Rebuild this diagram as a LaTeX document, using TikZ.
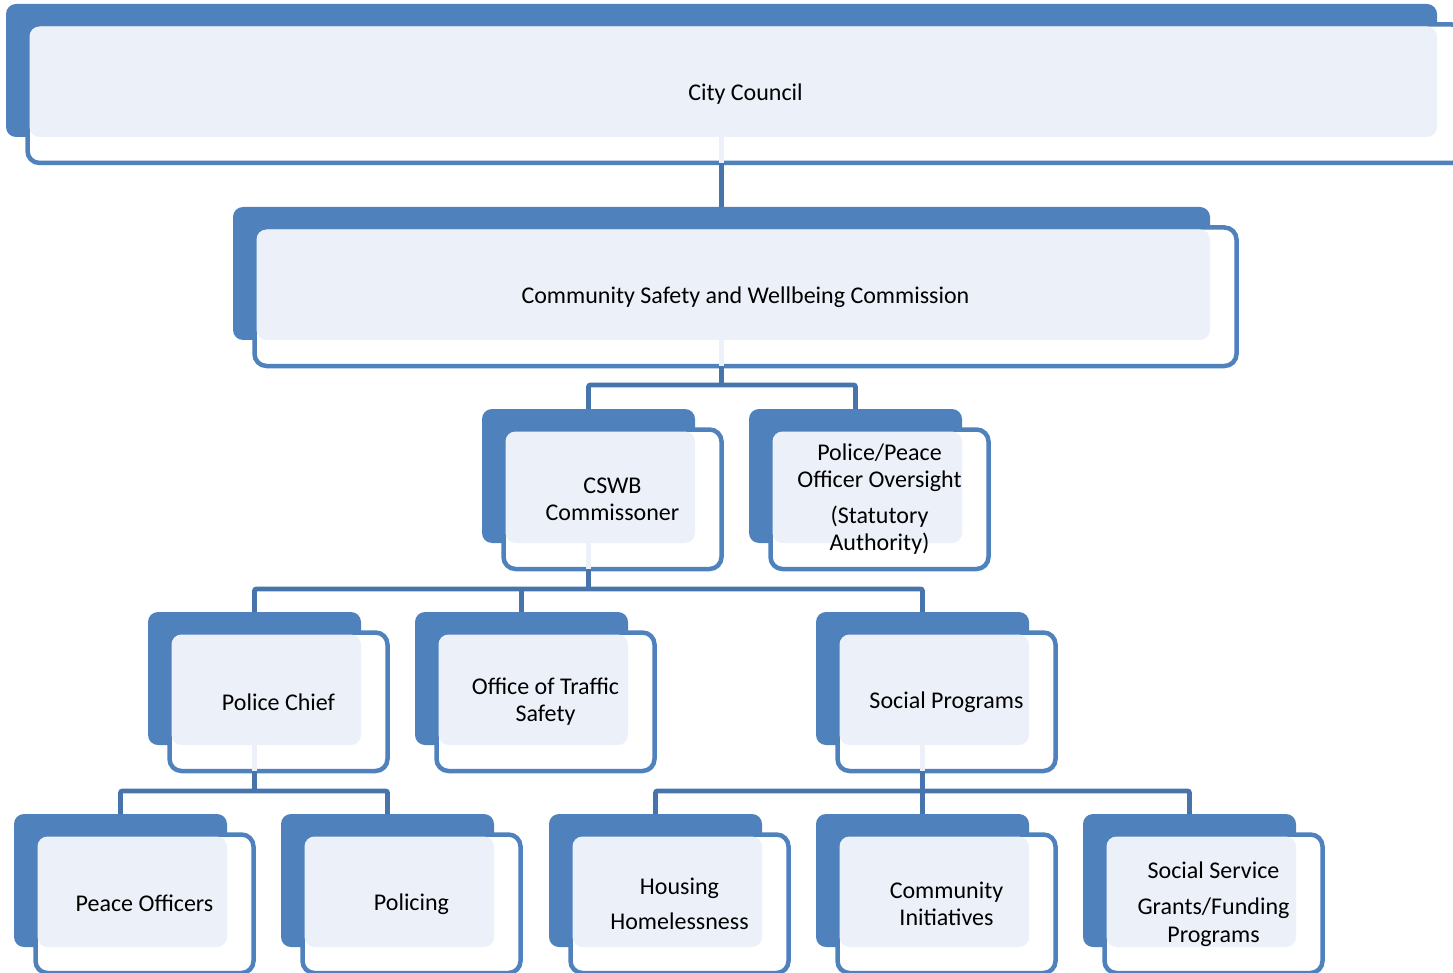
\documentclass[tikz,border=0pt]{standalone}
\usepackage{fontspec}
\setmainfont{Carlito}
\definecolor{bblue}{HTML}{4F81BD}
\definecolor{lfill}{HTML}{ECF1F9}
\definecolor{cline}{HTML}{4874AC}
\tikzset{
  bluebox/.style={fill=bblue, rounded corners=10pt, inner sep=0pt, outer sep=0pt},
  outbox/.style={draw=bblue, line width=4.5pt, fill=white, rounded corners=12pt, inner sep=0pt, outer sep=0pt},
  lightbox/.style={fill=lfill, rounded corners=10pt, inner sep=0pt, outer sep=0pt},
  label/.style={align=center, font=\fontsize{24}{27.5}\selectfont, inner sep=0pt},
  conn/.style={draw=cline, line width=4.8pt, rounded corners=2pt},
  lconn/.style={draw=lfill, line width=5pt}
}
% name, bx1, by1, bx2, by2, text
\newcommand\orgbox[6]{%
  \node[bluebox, minimum width={#4-#2}, minimum height={#5-#3}] (#1-b) at ({(#2+#4)/2},{(#3+#5)/2}) {};
  \node[outbox, minimum width={#4-#2+5}, minimum height={#5-#3+5.5}] (#1) at ({(#2+#4)/2+24},{(#3+#5)/2+23.25}) {};
  \node[lightbox, minimum width={#4-#2-23.5}, minimum height={#5-#3-22.5}] (#1-l) at ({(#2+#4)/2+11.75},{(#3+#5)/2+11.25}) {};
  \node[label] (#1-t) at (#1.center) {#6};
}
\newcommand\stub[1]{\draw[lconn] (#1-b.south) -- ([yshift=-1pt]#1-b.south |- #1.south);}
\begin{document}
\begin{tikzpicture}[x=1pt,y=-1pt]
\useasboundingbox (0,0) rectangle (1453,973);
\clip (0,0) rectangle (1453,973);
\orgbox{cc}{6}{4}{1437}{137}{City Council}
\orgbox{com}{233}{207}{1210}{340}{Community Safety and Wellbeing Commission}
\orgbox{cswb}{482}{409}{695}{543}{CSWB\\Commissoner}
\orgbox{ppo}{749}{409}{962}{543}{Police/Peace\\Officer Oversight\\[8pt](Statutory\\Authority)}
\orgbox{pc}{148}{612}{361}{745}{Police Chief}
\orgbox{ots}{415}{612}{628}{745}{Office of Traffic\\Safety}
\orgbox{sp}{816}{612}{1029}{745}{Social Programs}
\orgbox{po}{14}{814}{227}{947}{Peace Officers}
\orgbox{pol}{281}{814}{494}{947}{Policing}
\orgbox{hh}{549}{814}{762}{947}{Housing\\[8pt]Homelessness}
\orgbox{ci}{816}{814}{1029}{947}{Community\\Initiatives}
\orgbox{ss}{1083}{814}{1296}{947}{Social Service\\[9pt]Grants/Funding\\Programs}
\stub{cc}
\stub{com}
\stub{cswb}
\stub{pc}
\stub{sp}
% connectors
\draw[conn] (cc-b.south |- cc.south) -- (com-b.north);
\coordinate (j1) at (721.5,385);
\draw[conn] (com-b.south |- com.south) -- (j1);
\draw[conn] (cswb-b.north) |- (j1) -| (ppo-b.north);
\coordinate (j2) at (588.5,589);
\draw[conn] (cswb-b.south |- cswb.south) -- (j2);
\draw[conn] (pc-b.north) |- (j2) -| (sp-b.north);
\draw[conn] (ots-b.north) -- (ots-b.north |- j2);
\coordinate (j3) at (254.5,791);
\draw[conn] (pc-b.south |- pc.south) -- (j3);
\draw[conn] (po-b.north) |- (j3) -| (pol-b.north);
\coordinate (j4) at (922.5,791);
\draw[conn] (sp-b.south |- sp.south) -- (j4);
\draw[conn] (hh-b.north) |- (j4) -| (ss-b.north);
\draw[conn] (ci-b.north) -- (ci-b.north |- j4);
\end{tikzpicture}
\end{document}
